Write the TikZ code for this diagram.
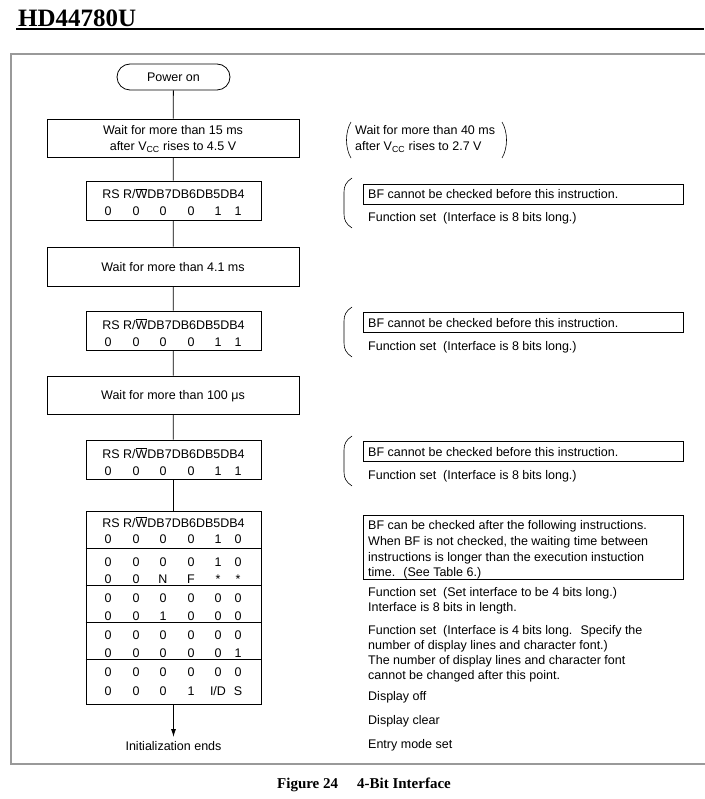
\documentclass[tikz,border=0pt]{standalone}
\usepackage{fontspec}
\setmainfont{Liberation Sans}
\newfontfamily\serifbf{Liberation Serif}[BoldFont=Liberation Serif Bold]
\usetikzlibrary{arrows.meta}
\newcommand\bitrow[7]{%
  \node[cen] (v#1a) at (108,#1) {#2};
  \node[cen] (v#1b) at (136,#1) {#3};
  \node[cen] (v#1c) at (163,#1) {#4};
  \node[cen] (v#1d) at (191,#1) {#5};
  \node[cen] (v#1e) at (218,#1) {#6};
  \node[cen] (v#1f) at (238,#1) {#7};}
\newcommand\hdrrow[2]{\node[cen] (#1) at (173.5,#2) {RS R/$\overline{\hbox{W}}$DB7DB6DB5DB4};}
\begin{document}
\begin{tikzpicture}[x=1pt,y=-1pt,
  txt/.style={inner sep=0pt, font=\fontsize{12.5}{15}\selectfont},
  lbl/.style={txt, anchor=base west},
  cen/.style={txt, anchor=base},
  boxs/.style={draw, line width=0.8pt, inner sep=0pt},
  conn/.style={line width=0.8pt},
  brk/.style={line width=0.6pt},
  frame/.style={draw=black!40, line width=1.4pt},
]
\useasboundingbox (0,0) rectangle (704,799);
% header
\node[anchor=base west, inner sep=0pt, font=\serifbf\bfseries\fontsize{25}{25}\selectfont] (title) at (18,27) {HD44780U};
\draw[line width=2pt] (16,29.5) -- (704,29.5);
% frame
\draw[frame] (706,54) -- (11,54) -- (11,764) -- (706,764);
% caption
\node[anchor=base, inner sep=0pt, font=\serifbf\bfseries\fontsize{15}{15}\selectfont] (cap) at (364,788) {Figure 24\hspace{19pt}4-Bit Interface};

% flow boxes
\node[boxs, rounded corners=13pt, minimum width=113pt, minimum height=26pt] (pwr) at (173.5,77) {};
\node[cen] (pwrt) at (173.5,81.5) {Power on};

\node[boxs, minimum width=252pt, minimum height=38pt] (b1) at (173,138) {};
\node[cen] (b1a) at (173,135) {Wait for more than 15 ms};
\node[cen] (b1b) at (173,151) {after V\textsubscript{CC} rises to 4.5 V};

\node[boxs, minimum width=175pt, minimum height=39pt] (i1) at (173.5,200.5) {};
\hdrrow{h1}{199}
\bitrow{216}{0}{0}{0}{0}{1}{1}

\node[boxs, minimum width=252pt, minimum height=39pt] (b2) at (173,266.5) {};
\node[cen] (b2a) at (173,271.5) {Wait for more than 4.1 ms};

\node[boxs, minimum width=175pt, minimum height=39pt] (i2) at (173.5,330.5) {};
\hdrrow{h2}{329}
\bitrow{346}{0}{0}{0}{0}{1}{1}

\node[boxs, minimum width=252pt, minimum height=38pt] (b3) at (173,395) {};
\node[cen] (b3a) at (173,399.5) {Wait for more than 100 μs};

\node[boxs, minimum width=175pt, minimum height=39pt] (i3) at (173.5,459.5) {};
\hdrrow{h3}{458}
\bitrow{475}{0}{0}{0}{0}{1}{1}

% big table
\node[boxs, minimum width=175pt, minimum height=193pt] (tb) at (173.5,607.5) {};
\draw[conn] (tb.west |- 0,548) coordinate (d1l) -- (tb.east |- 0,548) coordinate (d1r);
\draw[conn] (tb.west |- 0,585) coordinate (d2l) -- (tb.east |- 0,585) coordinate (d2r);
\draw[conn] (tb.west |- 0,622) coordinate (d3l) -- (tb.east |- 0,622) coordinate (d3r);
\draw[conn] (tb.west |- 0,659) coordinate (d4l) -- (tb.east |- 0,659) coordinate (d4r);
\hdrrow{h4}{527}
\bitrow{543}{0}{0}{0}{0}{1}{0}
\bitrow{566}{0}{0}{0}{0}{1}{0}
\bitrow{583}{0}{0}{N}{F}{*}{*}
\bitrow{602}{0}{0}{0}{0}{0}{0}
\bitrow{620}{0}{0}{1}{0}{0}{0}
\bitrow{639}{0}{0}{0}{0}{0}{0}
\bitrow{657}{0}{0}{0}{0}{0}{1}
\bitrow{676}{0}{0}{0}{0}{0}{0}
\bitrow{695}{0}{0}{0}{1}{I/D}{S}

\coordinate (aend) at (173.5,737);
\node[cen] (ends) at (173.5,750) {Initialization ends};

% connectors
\draw[conn] (pwr) -- (b1);
\draw[conn] (b1) -- (i1);
\draw[conn] (i1) -- (b2);
\draw[conn] (b2) -- (i2);
\draw[conn] (i2) -- (b3);
\draw[conn] (b3) -- (i3);
\draw[conn] (i3) -- (tb);
\draw[conn, -{Latex[length=8pt,width=5pt]}] (tb.south) -- (aend);

% right notes
\draw[brk] (351,122) .. controls (345,132) and (345,148) .. (351,158);
\draw[brk] (502,122) .. controls (508,132) and (508,148) .. (502,158);
\node[lbl] (n0a) at (355,135) {Wait for more than 40 ms};
\node[lbl] (n0b) at (355,151) {after V\textsubscript{CC} rises to 2.7 V};

\draw[brk] (352,178) .. controls (346,182) and (344,186) .. (344,192) -- (344,214) .. controls (344,220) and (346,224) .. (352,228);
\node[boxs, anchor=west, minimum width=320pt, minimum height=20pt] (g1) at (363,194) {};
\node[lbl] (g1t) at (368,198.5) {BF cannot be checked before this instruction.};
\node[lbl] (g1f) at (368,221.5) {Function set~ (Interface is 8 bits long.)};

\draw[brk] (352,307) .. controls (346,311) and (344,315) .. (344,321) -- (344,343) .. controls (344,349) and (346,353) .. (352,357);
\node[boxs, anchor=west, minimum width=320pt, minimum height=20pt] (g2) at (363,322.5) {};
\node[lbl] (g2t) at (368,327) {BF cannot be checked before this instruction.};
\node[lbl] (g2f) at (368,350.5) {Function set~ (Interface is 8 bits long.)};

\draw[brk] (352,436) .. controls (346,440) and (344,444) .. (344,450) -- (344,472) .. controls (344,478) and (346,482) .. (352,486);
\node[boxs, anchor=west, minimum width=320pt, minimum height=20pt] (g3) at (363,451.5) {};
\node[lbl] (g3t) at (368,456) {BF cannot be checked before this instruction.};
\node[lbl] (g3f) at (368,479.5) {Function set~ (Interface is 8 bits long.)};

\node[boxs, anchor=north west, minimum width=320pt, minimum height=64pt] (bf) at (363,515) {};
\node[lbl] (bf1) at (368,529.5) {BF can be checked after the following instructions.};
\node[lbl] (bf2) at (368,545.5) {When BF is not checked, the waiting time between};
\node[lbl] (bf3) at (368,561.5) {instructions is longer than the execution instuction};
\node[lbl] (bf4) at (368,576.5) {time.~ (See Table 6.)};

\node[lbl] (fs1) at (368,596) {Function set~ (Set interface to be 4 bits long.)};
\node[lbl] (fs2) at (368,611) {Interface is 8 bits in length.};
\node[lbl] (fs3) at (368,634.5) {Function set~ (Interface is 4 bits long.~ Specify the};
\node[lbl] (fs4) at (368,649.5) {number of display lines and character font.)};
\node[lbl] (fs5) at (368,664.5) {The number of display lines and character font};
\node[lbl] (fs6) at (368,679.5) {cannot be changed after this point.};
\node[lbl] (do) at (368,700.5) {Display off};
\node[lbl] (dc) at (368,724.5) {Display clear};
\node[lbl] (em) at (368,748.5) {Entry mode set};
\end{tikzpicture}
\end{document}
